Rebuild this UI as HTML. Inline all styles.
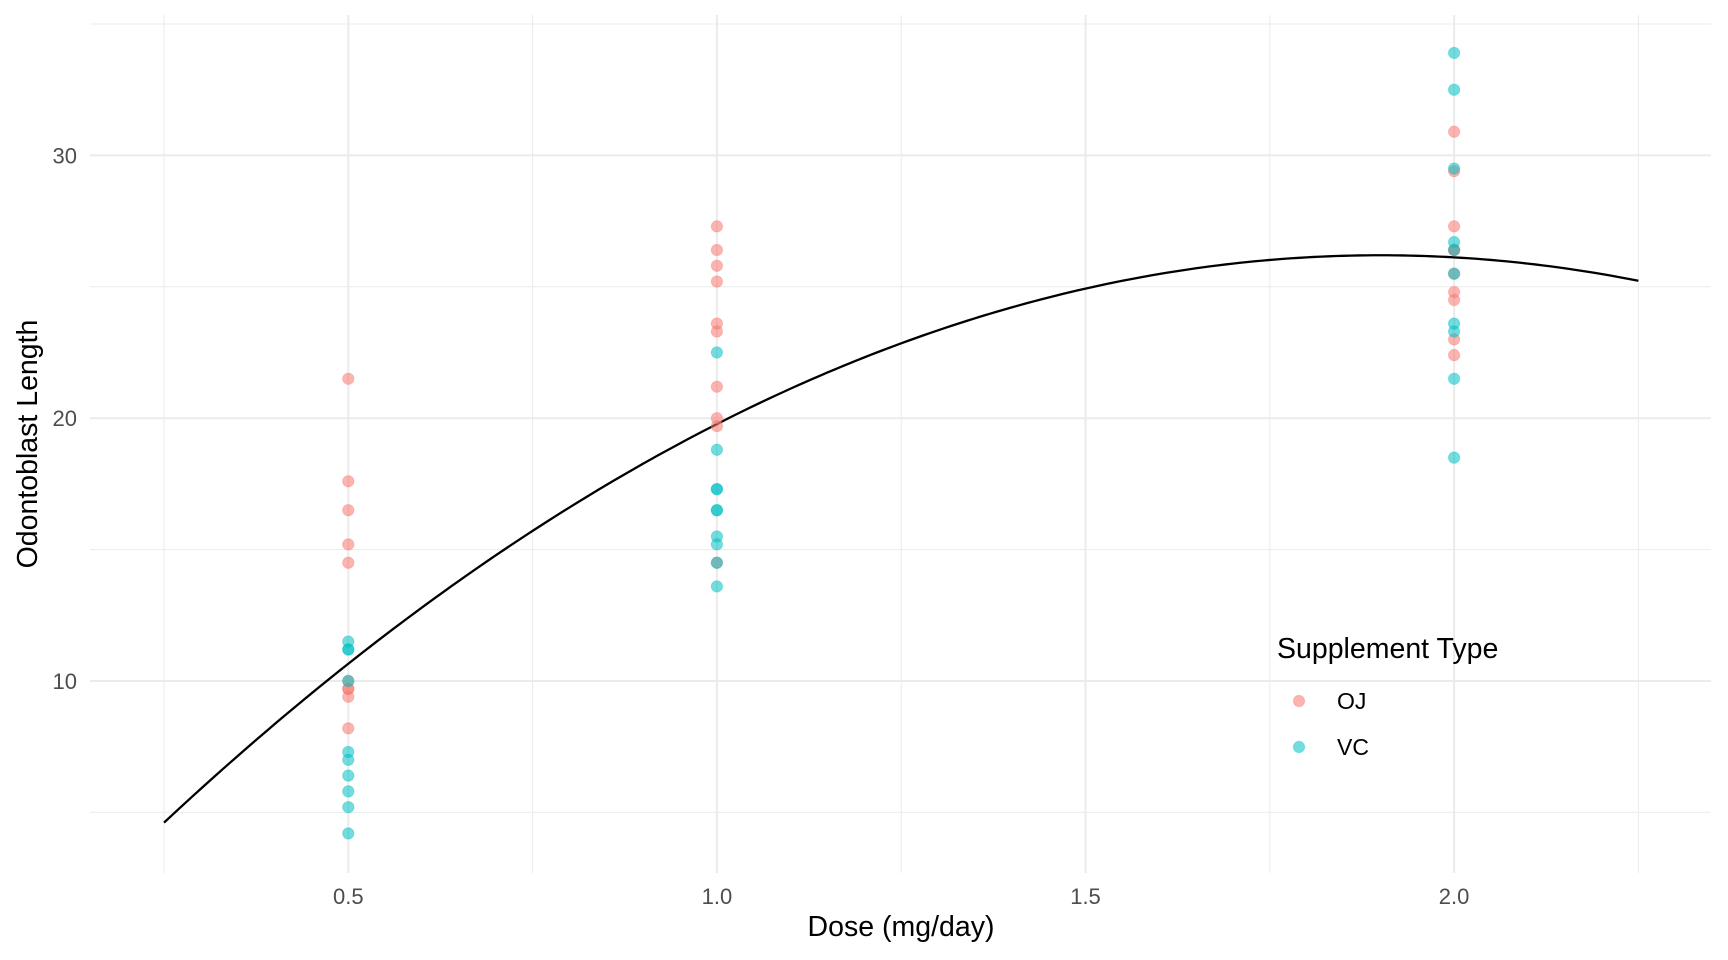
<!DOCTYPE html>
<html><head><meta charset="utf-8"><style>
html,body{margin:0;padding:0;background:#fff;}
svg{display:block;font-family:"Liberation Sans",Arial,sans-serif;}
</style></head><body>
<svg id="chart" width="1728" height="960" xmlns="http://www.w3.org/2000/svg">
<g id="grid"></g>
<g id="fit"></g>
<g id="pts"></g>
<g id="axes"></g>
<text x="901" y="936" text-anchor="middle" font-size="28.5" fill="#000">Dose (mg/day)</text>
<text transform="translate(37,444) rotate(-90)" text-anchor="middle" font-size="28.5" fill="#000">Odontoblast Length</text>
<g>
<text x="1277" y="658" font-size="28.5" fill="#000">Supplement Type</text>
<g>
<circle cx="1299" cy="701" r="5.7" fill="#F8766D" fill-opacity="0.55" stroke="#F8766D" stroke-opacity="0.3"/>
<text x="1337" y="709" font-size="23" fill="#000">OJ</text>
</g>
<g>
<circle cx="1299" cy="747" r="5.7" fill="#00BFC4" fill-opacity="0.55" stroke="#00BFC4" stroke-opacity="0.3"/>
<text x="1337" y="755" font-size="23" fill="#000">VC</text>
</g>
</g>
</svg>
<script>
const doses = [0.5, 1.0, 2.0];
const ojLen05 = [15.2, 21.5, 17.6, 9.7, 14.5, 10.0, 8.2, 9.4, 16.5, 9.7];
const ojLen10 = [19.7, 23.3, 23.6, 26.4, 20.0, 25.2, 25.8, 21.2, 14.5, 27.3];
const ojLen20 = [25.5, 26.4, 22.4, 24.5, 24.8, 30.9, 26.4, 27.3, 29.4, 23.0];
const vcLen05 = [4.2, 11.5, 7.3, 5.8, 6.4, 10.0, 11.2, 11.2, 5.2, 7.0];
const vcLen10 = [16.5, 16.5, 15.2, 17.3, 22.5, 17.3, 13.6, 14.5, 18.8, 15.5];
const vcLen20 = [23.6, 18.5, 33.9, 25.5, 26.4, 32.5, 26.7, 21.5, 23.3, 29.5];
const xTicks = [0.5, 1.0, 1.5, 2.0];
const xTickLabels = ["0.5", "1.0", "1.5", "2.0"];
const xMinor = [0.25, 0.75, 1.25, 1.75, 2.25];
const yTicks = [10, 20, 30];
const yTickLabels = ["10", "20", "30"];
const yMinor = [5, 15, 25, 35];
const fitVertexX = [1.9];
const fitVertexY = [26.2];
const fitCurv = [-7.93];
const fitRange = [0.25, 2.25];

const NS = "http://www.w3.org/2000/svg";
const PL = 90, PR = 1711, PT = 15, PB = 873;
function xs(v){ return 348.3 + (v - 0.5) * 737.2; }
function ys(v){ return 681 - (v - 10) * 26.28; }
function mk(tag, attrs, parent){
  const e = document.createElementNS(NS, tag);
  for (const k in attrs) e.setAttribute(k, attrs[k]);
  parent.appendChild(e);
  return e;
}
const grid = document.getElementById('grid');
xMinor.forEach(v => {
  const l = mk('line', {x1: xs(v), x2: xs(v), y1: PT, y2: PB, stroke: '#ebebeb', 'stroke-width': 1}, grid);
  
  
});
yMinor.forEach(v => {
  const l = mk('line', {x1: PL, x2: PR, y1: ys(v), y2: ys(v), stroke: '#ebebeb', 'stroke-width': 1}, grid);
  
  
});
xTicks.forEach(v => {
  const l = mk('line', {x1: xs(v), x2: xs(v), y1: PT, y2: PB, stroke: '#ebebeb', 'stroke-width': 2}, grid);
  
  
});
yTicks.forEach(v => {
  const l = mk('line', {x1: PL, x2: PR, y1: ys(v), y2: ys(v), stroke: '#ebebeb', 'stroke-width': 2}, grid);
  
  
});
const axes = document.getElementById('axes');
xTicks.forEach((v, i) => {
  const t = mk('text', {x: xs(v), y: 904, 'text-anchor': 'middle', 'font-size': 22, fill: '#4d4d4d'}, axes);
  t.textContent = xTickLabels[i];
  
  
});
yTicks.forEach((v, i) => {
  const t = mk('text', {x: 77, y: ys(v) + 8, 'text-anchor': 'end', 'font-size': 22, fill: '#4d4d4d'}, axes);
  t.textContent = yTickLabels[i];
  
  
});
const fit = document.getElementById('fit');
let d = '';
for (let i = 0; i <= 200; i++) {
  const xv = fitRange[0] + (fitRange[1] - fitRange[0]) * i / 200;
  const yv = fitVertexY[0] + fitCurv[0] * (xv - fitVertexX[0]) * (xv - fitVertexX[0]);
  d += (i ? 'L' : 'M') + xs(xv).toFixed(2) + ',' + ys(yv).toFixed(2);
}
const path = mk('path', {d: d, fill: 'none', stroke: '#000', 'stroke-width': 2.3}, fit);


const pts = document.getElementById('pts');
const ojSets = [ojLen05, ojLen10, ojLen20];
const vcSets = [vcLen05, vcLen10, vcLen20];
function drawSet(sets, color, name){
  sets.forEach((arr, di) => {
    arr.forEach(v => {
      const c = mk('circle', {cx: xs(doses[di]), cy: ys(v), r: 5.7, fill: color, 'fill-opacity': 0.55, stroke: color, 'stroke-opacity': 0.3}, pts);
      
      
    });
  });
}
drawSet(ojSets, '#F8766D', 'point-oj');
drawSet(vcSets, '#00BFC4', 'point-vc');
</script>
</body></html>
